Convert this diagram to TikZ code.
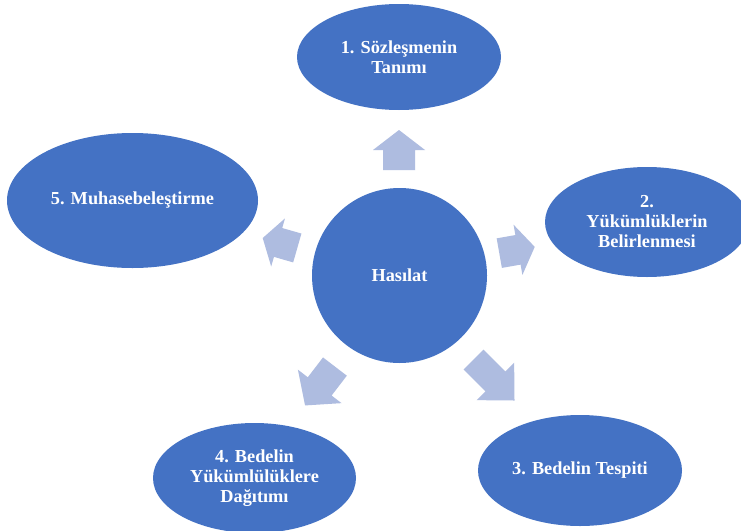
\documentclass[tikz,border=0pt]{standalone}
\usepackage{fontspec}
\setmainfont{Liberation Serif}
\usetikzlibrary{shapes.geometric}
\definecolor{nodeblue}{RGB}{68,114,196}
\definecolor{arrowblue}{RGB}{174,188,224}
\tikzset{
  stage/.style={ellipse, fill=nodeblue, draw=none, text=white, align=center,
    font=\fontsize{18.3}{20}\selectfont\bfseries, inner sep=0pt},
  hub/.style={circle, fill=nodeblue, draw=none, text=white,
    font=\fontsize{18.3}{20}\selectfont\bfseries, minimum size=175pt, inner sep=0pt},
  blockarr/.style={fill=arrowblue, draw=none}
}
% name, position, angle, length, shaft width, head width, head length
\newcommand\blockarrow[7]{%
  \coordinate (#1) at (#2);
  \fill[blockarr, shift={(#1)}, rotate=#3]
    ({-#4/2},{-#5/2}) -- ({#4/2-#7},{-#5/2}) -- ({#4/2-#7},{-#6/2}) --
    ({#4/2},0) -- ({#4/2-#7},{#6/2}) -- ({#4/2-#7},{#5/2}) --
    ({-#4/2},{#5/2}) -- cycle;}
\begin{document}
\begin{tikzpicture}[x=1pt, y=-1pt]
\useasboundingbox (0,0) rectangle (741,530);
\fill[white] (0,0) rectangle (741,530);

\node[hub] (hub) at (399.5,275.5) {Hasılat};

\node[stage, minimum width=204pt, minimum height=106pt] (s1) at (399,57)
  {1. Sözleşmenin\\Tanımı};
\node[stage, minimum width=204pt, minimum height=110pt] (s2) at (647,222)
  {2.\\Yükümlüklerin\\Belirlenmesi};
\node[stage, minimum width=204pt, minimum height=111pt] (s3) at (580,470.5)
  {3. Bedelin Tespiti};
\node[stage, minimum width=203pt, minimum height=110pt] (s4) at (254.5,478)
  {4. Bedelin\\Yükümlülüklere\\Dağıtımı};
\node[stage, minimum width=251pt, minimum height=135pt] (s5) at (132.5,200.5)
  {5. Muhasebeleştirme};

\blockarrow{a1}{399,150}{90}{40}{32}{52}{20}
\blockarrow{a2}{517,250}{10}{36}{30}{51}{17}
\blockarrow{a3}{494,380}{-45}{58}{28}{53}{27}
\blockarrow{a4}{320,386}{-127.5}{49}{30}{55}{24}
\blockarrow{a5}{280,243}{164}{36}{30}{50}{16}
\end{tikzpicture}
\end{document}
